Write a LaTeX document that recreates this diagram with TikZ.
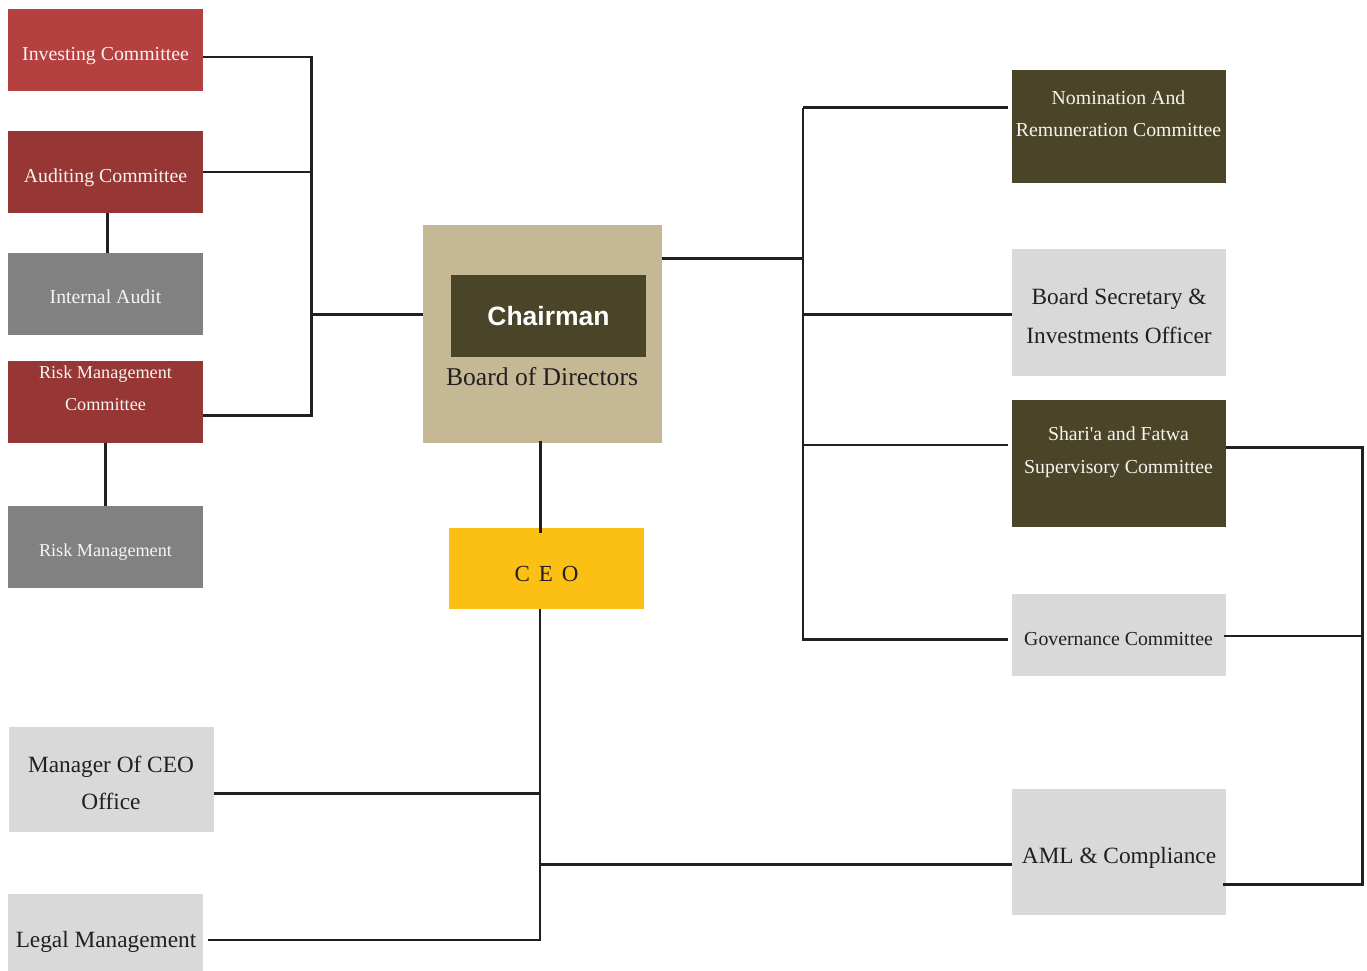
\documentclass[tikz,border=0pt]{standalone}
\usepackage{fontspec}
\setmainfont{Liberation Serif}
\newfontfamily\chairfont{Liberation Sans}
\usetikzlibrary{calc}
\definecolor{redA}{RGB}{181,64,64}
\definecolor{redB}{RGB}{150,55,54}
\definecolor{greyA}{RGB}{128,129,128}
\definecolor{lightg}{RGB}{217,217,217}
\definecolor{olive}{RGB}{74,68,41}
\definecolor{tan}{RGB}{196,185,148}
\definecolor{ceoy}{RGB}{252,192,21}
\definecolor{linec}{RGB}{35,31,32}
\definecolor{offw}{RGB}{246,244,240}
\begin{document}
\begin{tikzpicture}[x=1pt,y=-1pt,
  cbox/.style n args={2}{rectangle, draw=none, inner sep=0pt, outer sep=0pt, minimum width=#1pt, minimum height=#2pt},
  conn/.style={draw=linec, line width=2.6pt},
  wt/.style={text=offw, inner sep=0pt, anchor=base},
  dt/.style={text=linec, inner sep=0pt, anchor=base},
  fa/.style={font=\fontsize{19.8}{24}\selectfont},
  fb/.style={font=\fontsize{23.3}{28}\selectfont},
  fc/.style={font=\fontsize{18.2}{22}\selectfont},
]
\useasboundingbox (0,0) rectangle (1367,970);
% ---- boxes ----
\node[cbox={195}{81.7}, fill=redA] (inv) at (105.5,49.85) {};
\node[cbox={195}{81.7}, fill=redB] (aud) at (105.5,171.85) {};
\node[cbox={195}{81.7}, fill=greyA] (ia) at (105.5,293.85) {};
\node[cbox={195}{81.7}, fill=redB] (rmc) at (105.5,401.85) {};
\node[cbox={195}{81.7}, fill=greyA] (rm) at (105.5,546.85) {};
\node[cbox={238.7}{218.3}, fill=tan] (bod) at (542.35,334.15) {};
\node[cbox={195}{81.7}, fill=olive] (chair) at (548.5,315.85) {};
\node[cbox={194.7}{81.3}, fill=ceoy] (ceo) at (546.35,568.65) {};
\node[cbox={205}{104.5}, fill=lightg] (mgr) at (111.5,779.25) {};
\node[cbox={195}{81.7}, fill=lightg] (legal) at (105.5,934.85) {};
\node[cbox={214}{112.7}, fill=olive] (nom) at (1119,126.35) {};
\node[cbox={214}{126.7}, fill=lightg] (bsec) at (1119,312.35) {};
\node[cbox={214}{126.7}, fill=olive] (shar) at (1119,463.35) {};
\node[cbox={214}{81.7}, fill=lightg] (gov) at (1119,634.85) {};
\node[cbox={214}{126}, fill=lightg] (aml) at (1119,852.3) {};
% ---- texts ----
\node[wt,fa] (tinv) at (105.5,60) {Investing Committee};
\node[wt,fa] (taud) at (105.5,182) {Auditing Committee};
\node[wt,fa] (tia) at (105.5,303) {Internal Audit};
\node[wt,fc] (trmc1) at (105.5,378) {Risk Management};
\node[wt,fc] (trmc2) at (105.5,410) {Committee};
\node[wt,fc] (trm) at (105.5,556) {Risk Management};
\node[wt,font=\chairfont\bfseries\fontsize{26.5}{30}\selectfont, text=white] (tchair) at (548.5,325) {Chairman};
\node[dt,font=\fontsize{25.6}{30}\selectfont] (tbod) at (542,385) {Board of Directors};
\node[dt,font=\fontsize{23}{28}\selectfont] (tceo) at (546.5,581) {C\hspace{9pt}E\hspace{9pt}O};
\node[wt,fa] (tnom1) at (1118.5,104) {Nomination And};
\node[wt,fa] (tnom2) at (1118.5,136) {Remuneration Committee};
\node[dt,fb] (tbs1) at (1119,304) {Board Secretary \&};
\node[dt,fb] (tbs2) at (1119,343) {Investments Officer};
\node[wt,fa] (tsh1) at (1118.5,440) {Shari\textquotesingle a and Fatwa};
\node[wt,fa] (tsh2) at (1118.5,473) {Supervisory Committee};
\node[dt,fa] (tgov) at (1118.5,645) {Governance Committee};
\node[dt,fb] (taml) at (1119,863) {AML \& Compliance};
\node[dt,fb] (tmgr1) at (111,772) {Manager Of CEO};
\node[dt,fb] (tmgr2) at (111,809) {Office};
\node[dt,fb] (tlegal) at (106,947) {Legal Management};
% ---- left connectors ----
\coordinate (L1) at (311.7,57);
\coordinate (L4) at (311.7,415.7);
\coordinate (Lb) at (311.7,314.3);
\draw[conn] (inv.east |- L1) -- (L1) -- (L4) -- (rmc.east |- L4);
\draw[conn] (aud.east) -- (aud.east -| L1);
\draw[conn] (Lb) -- (bod.west |- Lb);
\coordinate (A0) at (107.7,0);
\draw[conn] (aud.south -| A0) -- (ia.north -| A0);
\draw[conn] (rmc.south) -- (rm.north);
% ---- board to CEO ----
\coordinate (C0) at (540.7,0);
\draw[conn] ($(bod.south -| C0)+(0,-2)$) -- ($(ceo.north -| C0)+(0,5)$);
% ---- CEO trunk ----
\coordinate (T1) at (540,793.3);
\coordinate (T2) at (540,864.3);
\coordinate (T3) at (540,940);
\draw[conn] (ceo.south -| T3) -- (T3) -- ($(legal.east |- T3)+(5,0)$);
\draw[conn] (T1) -- (mgr.east |- T1);
\draw[conn] (T2) -- (aml.west |- T2);
% ---- right bus ----
\coordinate (R0) at (803,258.3);
\coordinate (R1) at (803,107.7);
\coordinate (R2) at (803,314.3);
\coordinate (R3) at (803,445);
\coordinate (R4) at (803,639.3);
\coordinate (R5) at (803,641);
\draw[conn] (bod.east |- R0) -- (R0);
\draw[conn] (R1) -- (R5);
\draw[conn] (R1) -- ($(nom.west |- R1)+(-4,0)$);
\draw[conn] (R2) -- (bsec.west |- R2);
\draw[conn] (R3) -- ($(shar.west |- R3)+(-4,0)$);
\draw[conn] (R4) -- ($(gov.west |- R4)+(-4,0)$);
% ---- right bracket ----
\coordinate (B1) at (1362.5,447.3);
\coordinate (B2) at (1362.5,636);
\coordinate (B3) at (1362.5,884.3);
\draw[conn] (shar.east |- B1) -- (B1) -- (B3) -- ($(aml.east |- B3)+(-3,0)$);
\draw[conn] ($(gov.east |- B2)+(-2,0)$) -- (B2);
\end{tikzpicture}
\end{document}
